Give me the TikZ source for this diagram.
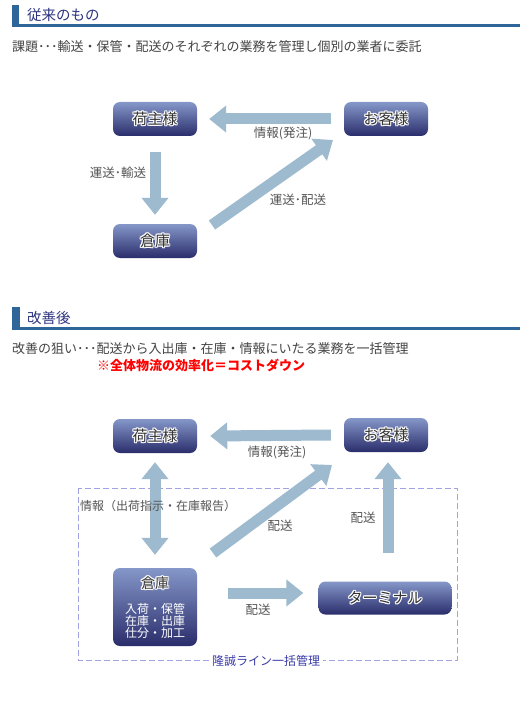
\documentclass[tikz,border=0pt]{standalone}
\usepackage{fontspec}
\setmainfont{Noto Sans CJK JP}
\usetikzlibrary{arrows.meta,calc}
\definecolor{hdrblue}{HTML}{2F6699}
\definecolor{hdrtxt}{HTML}{2E3580}
\definecolor{boxtop}{HTML}{8597C9}
\definecolor{boxbot}{HTML}{2A2D6B}
\definecolor{boxtxt}{HTML}{333333}
\definecolor{arrowc}{HTML}{9DBACF}
\definecolor{bodytxt}{HTML}{444444}
\definecolor{lbltxt}{HTML}{555555}
\definecolor{dashc}{HTML}{A3A3E3}
\definecolor{linetxt}{HTML}{3A3AA8}
\newcommand\haloat[3]{\rlap{\hspace*{#1}\raisebox{#2}{\color{white}#3}}}
\newcommand\halo[1]{\haloat{1.1pt}{0pt}{#1}\haloat{-1.1pt}{0pt}{#1}\haloat{0pt}{1.1pt}{#1}\haloat{0pt}{-1.1pt}{#1}\haloat{.8pt}{.8pt}{#1}\haloat{-.8pt}{.8pt}{#1}\haloat{.8pt}{-.8pt}{#1}\haloat{-.8pt}{-.8pt}{#1}{\color{boxtxt}#1}}
\tikzset{
  box/.style={rounded corners=7pt, top color=boxtop, bottom color=boxbot, minimum width=84pt, minimum height=34pt, inner sep=0pt, font=\fontsize{15}{18}\selectfont},
  bigarrow/.style={draw=arrowc, line width=11pt, -{Triangle[width=26pt,length=17pt]}},
  dblarrow/.style={draw=arrowc, line width=11pt, {Triangle[width=26pt,length=17pt]}-{Triangle[width=26pt,length=17pt]}},
  lbl/.style={text=lbltxt, font=\fontsize{12.5}{14}\selectfont, inner sep=0pt},
  body/.style={text=bodytxt, font=\fontsize{13}{15}\selectfont, inner sep=0pt, anchor=west},
  htitle/.style={text=hdrtxt, font=\fontsize{14.5}{17}\selectfont, inner sep=0pt, anchor=west},
}
\begin{document}
\begin{tikzpicture}[x=1pt,y=-1pt]
\useasboundingbox (0,0) rectangle (525,714);
\fill[white] (0,0) rectangle (525,714);
% ---------- header 1
\fill[hdrblue] (12,5) rectangle (19,27);
\fill[hdrblue] (12,24.5) rectangle (520,27);
\node[htitle] (t1) at (27,15) {従来のもの};
\node[body] (s1) at (12,47) {課題･･･輸送・保管・配送のそれぞれの業務を管理し個別の業者に委託};
% ---------- section 1
\node[box] (ninushi1) at (155,119) {\halo{荷主様}};
\node[box] (okyaku1) at (386,119) {\halo{お客様}};
\node[box] (souko1) at (155,241) {\halo{倉庫}};
\draw[bigarrow] ([xshift=-13pt]okyaku1.west) -- ([xshift=12pt]ninushi1.east);
\draw[bigarrow] ($(ninushi1.south)+(0,16)$) -- ($(souko1.north)+(0,-9)$);
\draw[bigarrow] ($(souko1.center)+(57,-16)$) -- ($(okyaku1.center)+(-53,21)$);
\node[lbl] (l11) at (283,133) {情報(発注)};
\node[lbl] (l12) at (118,173) {運送･輸送};
\node[lbl] (l13) at (298,200) {運送･配送};
% ---------- header 2
\fill[hdrblue] (12,307) rectangle (20,330);
\fill[hdrblue] (12,327) rectangle (520,330);
\node[htitle] (t2) at (27,318) {改善後};
\node[body] (s2) at (12,349) {改善の狙い･･･配送から入出庫・在庫・情報にいたる業務を一括管理};
\node[body, text=red, font=\fontsize{13}{15}\selectfont\bfseries] (s3) at (97,365) {※全体物流の効率化＝コストダウン};
% ---------- section 2
\draw[dashc, line width=0.8pt, dash pattern=on 6pt off 3pt] (78,488) rectangle (457,660);
\node[fill=white, text=linetxt, font=\fontsize{12}{14}\selectfont, inner xsep=3pt, inner ysep=1pt] (line) at (266,661) {隆誠ライン一括管理};
\node[box] (ninushi2) at (155,436) {\halo{荷主様}};
\node[box] (okyaku2) at (386,435) {\halo{お客様}};
\node[box, minimum height=78pt] (souko2) at (155,607) {};
\node[inner sep=0pt, font=\fontsize{14}{16}\selectfont] (souko2t) at (155,583) {\halo{倉庫}};
\node[inner sep=0pt, align=center, text=white, font=\fontsize{12}{12}\selectfont] (souko2d) at (155,621) {入荷・保管\\在庫・出庫\\仕分・加工};
\node[box, minimum width=133pt, minimum height=33pt] (terminal) at (385,598) {\halo{ターミナル}};
\draw[bigarrow] ([xshift=-13pt]okyaku2.west) -- ([xshift=13pt]ninushi2.east);
\draw[dblarrow] ($(ninushi2.south)+(0,9)$) -- ($(souko2.north)+(0,-13)$);
\draw[bigarrow] ($(souko2.center)+(58,-54)$) -- ($(okyaku2.center)+(-54,30)$);
\draw[bigarrow] ($(terminal.north)+(3,-28)$) -- ($(okyaku2.south)+(2,10)$);
\draw[bigarrow] ($(souko2.east)+(31,-14)$) -- ($(terminal.west)+(-15,-5)$);
\node[lbl] (l21) at (277,452) {情報(発注)};
\node[lbl, anchor=west, font=\fontsize{12}{14}\selectfont] (l22) at (80,506) {情報（出荷指示・在庫報告）};
\node[lbl] (l23) at (280,526) {配送};
\node[lbl] (l24) at (363,518) {配送};
\node[lbl] (l25) at (258,610) {配送};
\end{tikzpicture}
\end{document}
